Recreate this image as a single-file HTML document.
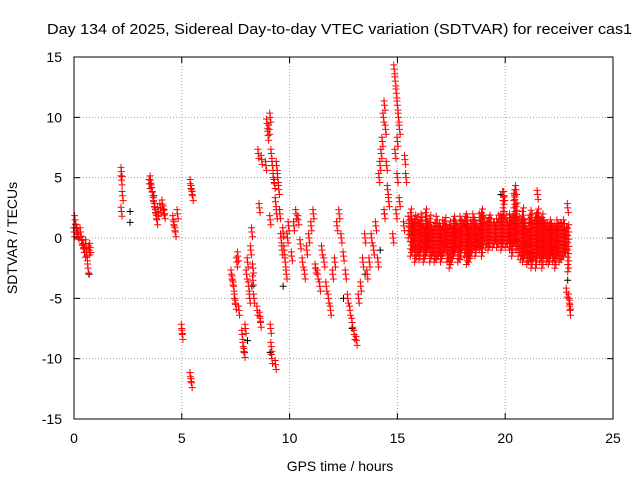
<!DOCTYPE html>
<html><head><meta charset="utf-8"><style>
body{margin:0;background:#fff;}
svg{display:block;font-family:"Liberation Sans",sans-serif;}
</style></head><body>
<svg id="chart" width="640" height="480">
<text x="47" y="34" font-size="15" textLength="585" lengthAdjust="spacingAndGlyphs">Day 134 of 2025, Sidereal Day-to-day VTEC variation (SDTVAR) for receiver cas1</text>
<text x="340" y="471" text-anchor="middle" font-size="14">GPS time / hours</text>
<text x="17" y="238" text-anchor="middle" font-size="14" transform="rotate(-90 17 238)">SDTVAR / TECUs</text>
<g id="grid"></g><g id="axes"></g><g id="marks"></g>
<rect x="74" y="57" width="539" height="362" fill="none" stroke="#000"/>
</svg>
<script>
const xTicks=[0,5,10,15,20,25];
const yTicks=[-15,-10,-5,0,5,10,15];
const times=[0,0.05,0.1,0.15,0.2,0.3,0.35,0.4,0.45,0.5,0.55,0.6,0.65,0.7,0.75,
2.2,2.2,2.25,2.2,3.5,3.55,3.6,3.65,3.7,3.75,3.8,3.85,3.9,4.0,4.1,4.2,4.15,4.6,4.65,4.7,4.8,5.0,5.02,5.4,5.45,5.4,5.45,5.5,
7.3,7.35,7.4,7.45,7.5,7.55,7.6,7.65,7.8,7.85,7.9,7.95,8.0,8.05,8.1,8.15,8.2,8.25,8.3,8.3,8.35,8.6,8.62,8.65,8.5,8.55,8.7,
8.9,8.95,9.0,9.05,9.1,9.15,9.2,9.25,9.3,9.35,9.4,9.1,9.12,9.15,9.18,9.35,9.4,9.45,9.5,9.55,9.6,9.65,9.7,9.75,9.8,9.85,9.9,9.95,
10.1,10.2,10.3,10.4,10.5,10.6,10.7,10.8,10.9,11.0,11.1,11.2,11.3,11.4,11.5,11.6,11.7,11.8,11.9,12.0,12.1,12.2,12.3,12.4,12.5,12.6,12.7,12.8,12.9,13.0,13.1,13.2,13.3,13.4,13.5,13.6,13.7,13.8,13.9,14.0,
14.1,14.15,14.2,14.25,14.3,14.35,14.4,14.45,14.5,14.55,14.6,14.4,14.8,14.85,14.9,14.95,15.0,15.05,15.1,15.0,14.9,15.0,15.1,14.95,15.3,15.35,15.4,
19.9,19.95,20.45,20.5,21.5,22.9,22.95,23.0,23.0,22.85];
const values=[0.5,1.5,0.8,0.5,0.3,0.5,-0.2,-0.5,-0.8,-1.2,-0.5,-1.5,-2.5,-1,-0.8,
5.5,4.8,3.5,2.2,4.5,4.8,4.2,3.5,3,2.5,2,1.5,2.2,2.5,2.8,2.0,2.3,1.5,1,0.5,2,-7.5,-8,-11.5,-12,4.5,4,3.5,
-3,-3.5,-4,-5,-5.5,-2,-1.5,-6,-8,-9,-9.5,-7.5,-3,-2,-4,-5,-1,0.5,-2.5,-3.5,-5,2.5,-6.5,-7,-6,7,6.5,6,
9.5,8.5,9,10,7,6,5,4.5,3,2,1.5,-7.5,-9,-10,-10.5,6,5,4,2,0,-1,0.5,-1,-2,-3,0,1,-1.5,
1,2,1.5,-0.5,-2,-3,-1,0,1,2,-2.5,-3,-4,-1,-2,-4,-5,-6,-3,-2,1,2,0,-1.5,-3,-5,-6,-7,-8,-8.5,-5,-4,-2,0,-3,-2,0,-1,1,-2,
5,6,7,8,10,11,9,6,4,3,2,0,14,13,12,11,10,9,8,7,5,3,2,1,6.5,5,3.5,
3.5,3.2,4,3.6,2.5,-5,-5.5,-6,-4.5,-4];
const bandTimes=[15.5,15.6,15.7,15.8,15.9,16.0,16.1,16.2,16.3,16.4,16.5,16.6,16.7,16.8,16.9,17.0,17.1,17.2,17.3,17.4,17.5,17.6,17.7,17.8,17.9,18.0,18.1,18.2,18.3,18.4,18.5,18.6,18.7,18.8,18.9,19.0,19.1,19.2,19.3,19.4,19.5,19.6,19.7,19.8,19.9,20.0,20.1,20.2,20.3,20.4,20.5,20.6,20.7,20.8,20.9,21.0,21.1,21.2,21.3,21.4,21.5,21.6,21.7,21.8,21.9,22.0,22.1,22.2,22.3,22.4,22.5,22.6,22.7,22.8,22.9];
const bandHi=[2,2.5,1.5,2,1.8,1.5,2,1.2,2.5,1.5,2,1,1.5,2,1.2,1,1.5,1.8,1.2,1.5,1,2,1.5,1.2,2,1.5,1.8,2,1.2,1.5,2,1.5,1.2,2,2.5,2,1.5,1.8,2,1.5,1.5,1.8,2,2.2,3.5,2,1.5,2,1.8,4,3,2,1.5,2.5,1.5,1,2,2.5,1.5,2,2.5,1.8,2,1.5,1.5,1.2,1.5,1,1.2,1.5,1.5,1.2,1.5,1,1.2];
const bandLo=[0,-1.5,-1,-2,-1.5,-1.8,-1,-2,-1.5,-1,-2,-1.5,-2,-1.8,-1.5,-2,-1.5,-1,-2,-2.5,-2,-1.5,-1,-2,-1.8,-1,-1.5,-2.2,-2,-1.5,-1,-1.5,-0.8,-1,-1.5,-0.5,-0.8,-1,-0.5,-0.8,-0.5,-0.8,-0.5,-1,-0.5,-0.8,-0.5,-1,-1.5,-0.5,-1,-1.5,-1.8,-2,-1.5,-2.2,-2,-2.5,-1.8,-2.5,-1.5,-2,-2.5,-1.5,-2,-2.2,-1.5,-2,-2.5,-1.5,-2,-1.8,-1.5,-1.2,-2.8];
const blackTimes=[0.7,2.6,2.6,3.7,4.2,7.9,8.05,8.25,9.1,9.7,11.2,12.5,12.9,13.5,14.2,14.4,16.5,18.2,19.8,21.3,22.2,22.9];
const blackValues=[-3,2.2,1.3,3.5,2.0,-9.5,-8.5,-4,-9.5,-4,-2.5,-5,-7.5,-3,-1,2,0,1,3.6,-1.5,-1,-3.5];
const X=t=>74+(t/25)*539, Y=v=>238-(v/15)*181;
const NS='http://www.w3.org/2000/svg';
function el(tag,attrs,parent){const e=document.createElementNS(NS,tag);for(const k in attrs)e.setAttribute(k,attrs[k]);parent.appendChild(e);return e;}
const grid=document.getElementById('grid'),axes=document.getElementById('axes'),marks=document.getElementById('marks');
xTicks.forEach(t=>{
 if(t>0&&t<25){const g=el('line',{x1:X(t),x2:X(t),y1:57,y2:419,stroke:'#a0a0a0','stroke-dasharray':'1,2'},grid);
 
 }
 el('line',{x1:X(t),x2:X(t),y1:419,y2:413,stroke:'#000'},axes);
 el('line',{x1:X(t),x2:X(t),y1:57,y2:63,stroke:'#000'},axes);
 const l=el('text',{x:X(t),y:443,'text-anchor':'middle','font-size':14},axes);l.textContent=t;
 
 
});
yTicks.forEach(v=>{
 if(v>-15&&v<15){const g=el('line',{x1:74,x2:613,y1:Y(v),y2:Y(v),stroke:'#a0a0a0','stroke-dasharray':'1,2'},grid);
 
 }
 el('line',{x1:74,x2:80,y1:Y(v),y2:Y(v),stroke:'#000'},axes);
 el('line',{x1:607,x2:613,y1:Y(v),y2:Y(v),stroke:'#000'},axes);
 const l=el('text',{x:62,y:Y(v)+5,'text-anchor':'end','font-size':14},axes);l.textContent=v;
 
 
});
function plus(t,v,c){const x=X(t),y=Y(v);
 const p=el('path',{d:`M${x-3.5},${y}h7M${x},${y-3.5}v7`,stroke:c,'stroke-width':1,fill:'none'},marks);
 
 }
blackTimes.forEach((t,i)=>plus(t,blackValues[i],'#000'));
times.forEach((t,i)=>{plus(t,values[i],'#f00');plus(t+0.03,values[i]-0.4,'#f00');plus(t-0.02,values[i]+0.35,'#f00');});
bandTimes.forEach((t,i)=>{
 for(let k=0;k<2;k++){const tt=t+k*0.05;
  for(let v=bandLo[i]+k*0.3;v<=bandHi[i];v+=0.6)plus(tt,v,'#f00');}
});
</script>
</body></html>
